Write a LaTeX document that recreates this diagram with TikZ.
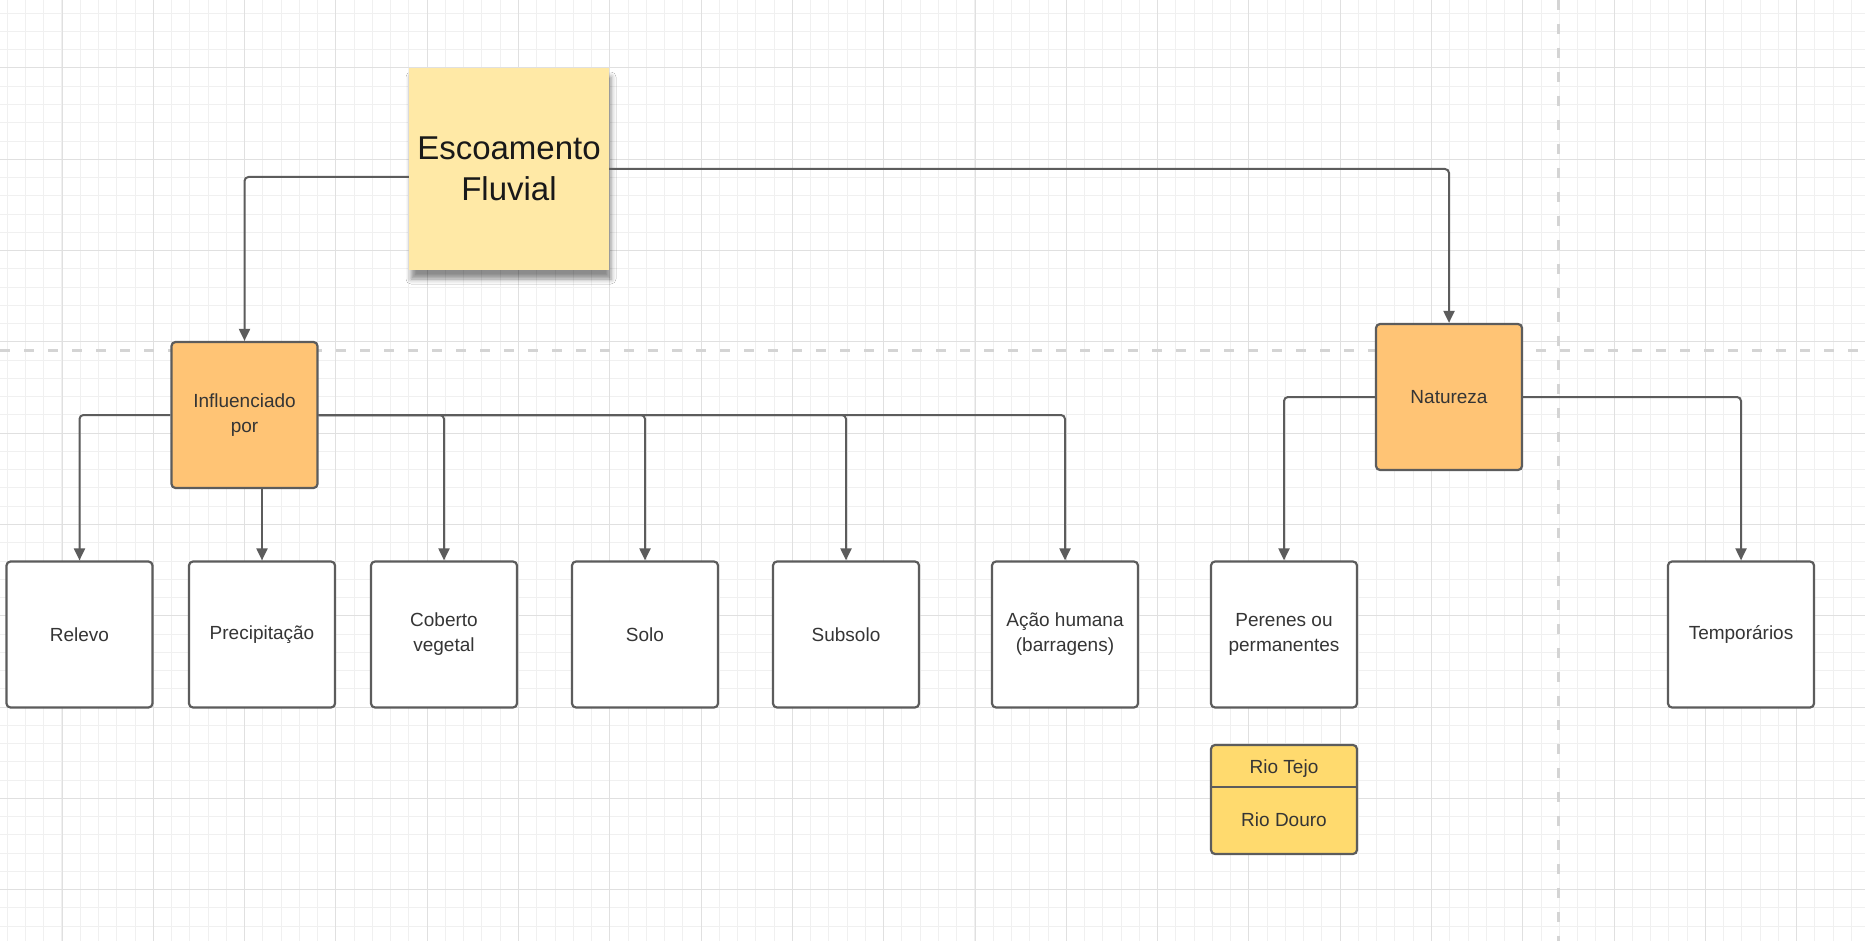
\documentclass[tikz,border=0pt]{standalone}
\usepackage{fontspec}
\setmainfont{Liberation Sans}
\usetikzlibrary{arrows.meta, positioning, calc, shadows.blur}
\definecolor{gridminor}{HTML}{F0F0F0}
\definecolor{gridmajor}{HTML}{E0E0E0}
\definecolor{guide}{HTML}{D4D4D4}
\definecolor{edgegray}{HTML}{5C5C5C}
\definecolor{stickyyellow}{HTML}{FFE9A6}
\definecolor{huborange}{HTML}{FFC475}
\definecolor{rioyellow}{HTML}{FFDA6E}
\definecolor{txtgray}{HTML}{353535}

\begin{document}
\begin{tikzpicture}[x=1pt, y=-1pt,
    box/.style={draw=edgegray, line width=2.2pt, rounded corners=4pt, minimum width=146pt, minimum height=146pt, align=center, text=txtgray, font=\fontsize{19}{25}\selectfont},
    leaf/.style={box, fill=white},
    hub/.style={box, fill=huborange},
    note/.style={fill=stickyyellow, minimum width=200pt, minimum height=202pt, align=center, text=black!90, font=\fontsize{33}{41}\selectfont,
        blur shadow={shadow xshift=2pt, shadow yshift=-9pt, shadow blur radius=5pt, shadow opacity=45}},
    arr/.style={-{Triangle[length=12pt, width=11pt]}, draw=edgegray, line width=2pt, rounded corners=4pt}
]
\useasboundingbox[fill=white] (0,0) rectangle (1865,941);

% background grid
\foreach \i in {0,...,101} \draw[gridminor, line width=1pt] ({7.2+18.26*\i},0) -- ({7.2+18.26*\i},941);
\foreach \i in {0,...,51} \draw[gridminor, line width=1pt] (0,{13.2+18.26*\i}) -- (1865,{13.2+18.26*\i});
\foreach \i in {0,...,19} \draw[gridmajor, line width=1pt] ({62+91.3*\i},0) -- ({62+91.3*\i},941);
\foreach \i in {0,...,9} \draw[gridmajor, line width=1pt] (0,{68+91.3*\i}) -- (1865,{68+91.3*\i});
\draw[guide, line width=3pt, dash pattern=on 10pt off 14pt] (0,350) -- (1865,350);
\draw[guide, line width=3pt, dash pattern=on 10pt off 14pt] (1558,0) -- (1558,941);

% nodes
\node[note] (title) at (509,169) {Escoamento\\Fluvial};
\node[hub] (infl) at (244.5,415) {Influenciado\\por};
\node[hub] (natur) at (1449,397) {Natureza};

\node[leaf] (relevo) at (79.5,634.5) {Relevo};
\node[leaf] (precip) at (262,634.5) {Precipitação};
\node[leaf] (coberto) at (444,634.5) {Coberto\\vegetal};
\node[leaf] (solo) at (645,634.5) {Solo};
\node[leaf] (subsolo) at (846,634.5) {Subsolo};
\node[leaf] (acao) at (1065,634.5) {Ação humana\\(barragens)};
\node[leaf] (perenes) at (1284,634.5) {Perenes ou\\permanentes};
\node[leaf] (temp) at (1741,634.5) {Temporários};

\node[box, fill=rioyellow, minimum height=109pt] (rio) at (1284,799.5) {};
\coordinate (split) at (1284,787);
\draw[edgegray, line width=2.2pt] (rio.west |- split) -- (rio.east |- split);
\node[text=txtgray, font=\fontsize{19}{25}\selectfont] (tejo) at (1284,769) {Rio Tejo};
\node[text=txtgray, font=\fontsize{19}{25}\selectfont] (douro) at (1284,820) {Rio Douro};

% connectors
\draw[arr] ($(title.west)+(0,8)$) -| (infl.north);
\draw[arr] (title.east) -| (natur.north);
\draw[arr] (infl.west) -| (relevo.north);
\draw[arr] (infl.south -| precip.north) -- (precip.north);
\foreach \t in {coberto, solo, subsolo, acao} \draw[arr] (infl.east) -| (\t.north);
\draw[arr] (natur.west) -| (perenes.north);
\draw[arr] (natur.east) -| (temp.north);
\end{tikzpicture}
\end{document}
